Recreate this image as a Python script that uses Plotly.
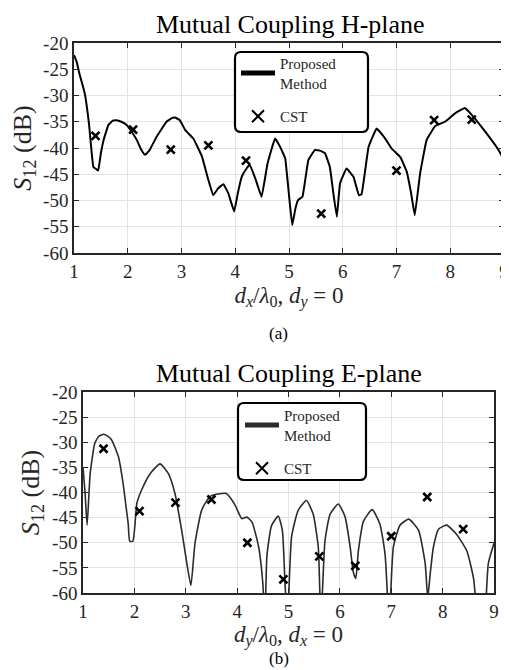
import plotly.graph_objects as go

# ---------------- H-plane (a) ----------------
h_x = [1.0, 1.05, 1.1, 1.2, 1.28, 1.36, 1.41, 1.45, 1.5, 1.55, 1.64, 1.72, 1.79, 1.88, 1.98,
       2.08, 2.17, 2.25, 2.32, 2.4, 2.54, 2.72, 2.82, 2.88, 2.97, 3.07, 3.22, 3.38, 3.5,
       3.59, 3.68, 3.78, 3.87, 3.98, 4.05, 4.12, 4.21, 4.27, 4.38, 4.49, 4.6, 4.74, 4.82,
       4.89, 4.93, 5.0, 5.06, 5.12, 5.17, 5.25, 5.36, 5.48, 5.58, 5.67, 5.76, 5.83, 5.89,
       5.95, 6.07, 6.2, 6.3, 6.35, 6.48, 6.63, 6.79, 6.91, 7.07, 7.19, 7.27, 7.34, 7.44,
       7.56, 7.72, 7.9, 8.09, 8.27, 8.4, 8.65, 8.9, 9.0]
h_y = [-22.3, -23.6, -25.8, -29.6, -35.5, -43.6, -44.0, -44.3, -41.0, -38.5, -35.6, -34.8,
       -34.7, -35.0, -35.6, -37.0, -38.5, -40.3, -41.3, -40.5, -37.8, -35.0, -34.3, -34.2,
       -34.7, -36.6, -38.2, -41.6, -46.1, -49.0, -47.7, -46.9, -48.6, -52.1, -48.5, -45.5,
       -43.9, -43.2, -46.0, -49.3, -43.0, -38.2, -39.5, -41.0, -42.0, -49.0, -54.7, -51.5,
       -49.9, -49.3, -42.3, -40.4, -40.5, -41.0, -43.6, -49.0, -53.1, -46.7, -43.9, -45.5,
       -49.0, -48.8, -39.8, -36.3, -38.2, -40.1, -41.7, -44.5, -48.5, -52.8, -44.8, -38.5,
       -35.8, -35.0, -33.4, -32.4, -33.7, -36.9, -40.4, -42.2]
h_cst_x = [1.4, 2.1, 2.8, 3.5, 4.2, 5.6, 7.0, 7.7, 8.4]
h_cst_y = [-37.7, -36.5, -40.3, -39.5, -42.4, -52.5, -44.3, -34.7, -34.6]

# ---------------- E-plane (b) ----------------
e_x = [1.0, 1.04, 1.08, 1.14, 1.23, 1.31, 1.4, 1.48, 1.56, 1.69, 1.78, 1.84, 1.88, 1.91,
       1.97, 2.05, 2.14, 2.31, 2.5, 2.66, 2.79, 2.92, 3.02, 3.1, 3.18, 3.31, 3.47, 3.63,
       3.79, 3.96, 4.09, 4.19, 4.29, 4.42, 4.5, 4.54, 4.58, 4.67, 4.8, 4.88, 4.93, 4.98,
       5.06, 5.19, 5.35, 5.48, 5.58, 5.63, 5.71, 5.81, 5.97, 6.1, 6.2, 6.26, 6.31, 6.36,
       6.46, 6.63, 6.78, 6.88, 6.96, 7.04, 7.17, 7.34, 7.53, 7.66, 7.71, 7.76, 7.82, 7.92,
       8.08, 8.27, 8.47, 8.6, 8.72, 8.81, 8.89, 9.0]
e_y = [-35.0, -40.0, -46.5, -36.2, -30.2, -28.8, -28.4, -28.8, -29.6, -32.9, -38.2, -43.0,
       -46.2, -49.7, -49.7, -42.1, -39.5, -36.2, -34.3, -36.2, -40.2, -47.5, -54.0, -58.5,
       -50.1, -43.5, -40.8, -40.3, -40.2, -42.5, -45.2, -44.9, -45.9, -50.9, -58.0, -66.0,
       -52.6, -46.6, -44.7, -47.5, -57.6, -66.0, -48.8, -43.5, -41.6, -44.3, -50.9, -66.0,
       -49.6, -44.3, -42.3, -44.8, -50.8, -55.8, -57.1, -51.6, -45.7, -43.4, -46.3, -52.3,
       -66.0, -50.9, -46.5, -45.3, -47.5, -54.1, -61.0, -56.0, -50.9, -47.3, -46.5, -48.3,
       -51.6, -57.0, -68.0, -66.0, -54.1, -50.1]
e_cst_x = [1.4, 2.1, 2.8, 3.5, 4.2, 4.9, 5.6, 6.3, 7.0, 7.7, 8.4]
e_cst_y = [-31.3, -43.7, -42.0, -41.4, -50.0, -57.3, -52.7, -54.6, -48.7, -40.9, -47.3]

x_ticks = [1, 2, 3, 4, 5, 6, 7, 8, 9]
y_ticks = [-60, -55, -50, -45, -40, -35, -30, -25, -20]

# page body has an 8px margin, so the figure is made 8px smaller and coordinates shifted
OFF = 8
W, H = 509 - OFF, 670 - OFF


def px(x):
    return (x - OFF) / W


def py(y):
    return 1 - (y - OFF) / H


def rounded_box(x0, y0, x1, y1, r=6):
    # x0,y0 top-left; x1,y1 bottom-right in window pixels -> paper path
    rx, ry = r / W, r / H
    a, b, c, d = px(x0), py(y0), px(x1), py(y1)
    return (f"M{a + rx},{b} L{c - rx},{b} Q{c},{b} {c},{b - ry} "
            f"L{c},{d + ry} Q{c},{d} {c - rx},{d} L{a + rx},{d} "
            f"Q{a},{d} {a},{d + ry} L{a},{b - ry} Q{a},{b} {a + rx},{b} Z")


FONT = "Liberation Serif"
TXT = "#262626"
fig = go.Figure()

fig.add_trace(go.Scatter(x=h_x, y=h_y, mode="lines", name="Proposed<br>Method",
                         line=dict(color="black", width=2, shape="spline", smoothing=0.25),
                         xaxis="x", yaxis="y", legend="legend", legendgroup="a1"))
fig.add_trace(go.Scatter(x=h_cst_x, y=h_cst_y, mode="markers", name="CST",
                         marker=dict(symbol="x-thin", size=8, color="black",
                                     line=dict(width=2.6, color="black")),
                         xaxis="x", yaxis="y", legend="legend", legendgroup="a2"))
fig.add_trace(go.Scatter(x=e_x, y=e_y, mode="lines", name="Proposed<br>Method",
                         line=dict(color="#2b2b2b", width=1.6, shape="spline", smoothing=0.5),
                         xaxis="x2", yaxis="y2", legend="legend2", legendgroup="b1"))
fig.add_trace(go.Scatter(x=e_cst_x, y=e_cst_y, mode="markers", name="CST",
                         marker=dict(symbol="x-thin", size=8, color="black",
                                     line=dict(width=2.6, color="black")),
                         xaxis="x2", yaxis="y2", legend="legend2", legendgroup="b2"))

axis_common = dict(showgrid=True, gridcolor="#e3e3e3", gridwidth=1, zeroline=False,
                   showline=True, linecolor=TXT, linewidth=1.5, mirror="allticks",
                   ticks="inside", ticklen=5, tickcolor=TXT, automargin=False,
                   tickfont=dict(family=FONT, size=19, color=TXT))

xa = dict(axis_common, range=[1, 9], tickvals=x_ticks, ticktext=[str(v) for v in x_ticks])
ya = dict(axis_common, range=[-60, -20], tickvals=y_ticks, ticktext=[str(v) for v in y_ticks])

legend_common = dict(bgcolor="rgba(0,0,0,0)", borderwidth=0,
                     font=dict(family=FONT, size=15, color=TXT),
                     xanchor="left", yanchor="top", tracegroupgap=11,
                     itemsizing="constant", itemwidth=34)

fig.update_layout(
    width=W, height=H,
    paper_bgcolor="white", plot_bgcolor="white",
    margin=dict(l=0, r=0, t=0, b=0, autoexpand=False),
    showlegend=True,
    xaxis=dict(xa, domain=[px(74), px(504)], anchor="y",
               title=dict(text="<i>d</i><sub><i>x</i></sub>/<i>λ</i><sub>0</sub>, <i>d</i><sub><i>y</i></sub> = 0",
                          font=dict(family=FONT, size=23, color=TXT), standoff=6)),
    yaxis=dict(ya, domain=[py(253), py(43)], anchor="x",
               title=dict(text="<i>S</i><sub>12</sub> (dB)",
                          font=dict(family=FONT, size=26, color=TXT), standoff=6)),
    xaxis2=dict(xa, domain=[px(83), px(494)], anchor="y2",
                title=dict(text="<i>d</i><sub><i>y</i></sub>/<i>λ</i><sub>0</sub>, <i>d</i><sub><i>x</i></sub> = 0",
                           font=dict(family=FONT, size=23, color=TXT), standoff=3)),
    yaxis2=dict(ya, domain=[py(593), py(392)], anchor="x2",
                title=dict(text="<i>S</i><sub>12</sub> (dB)",
                           font=dict(family=FONT, size=26, color=TXT), standoff=5)),
    legend=dict(legend_common, x=px(236), y=py(47)),
    legend2=dict(legend_common, x=px(240), y=py(399)),
    shapes=[
        dict(type="path", xref="paper", yref="paper", layer="above",
             path=rounded_box(235, 52, 368, 132), fillcolor="white",
             line=dict(color="black", width=2.2)),
        dict(type="path", xref="paper", yref="paper", layer="above",
             path=rounded_box(238, 403, 366, 480), fillcolor="white",
             line=dict(color="black", width=2.2)),
    ],
    annotations=[
        dict(text="Mutual Coupling H-plane", x=px(290), y=py(24), xref="paper", yref="paper",
             showarrow=False, font=dict(family=FONT, size=26, color="black"),
             xanchor="center", yanchor="middle"),
        dict(text="Mutual Coupling E-plane", x=px(289), y=py(373), xref="paper", yref="paper",
             showarrow=False, font=dict(family=FONT, size=26, color="black"),
             xanchor="center", yanchor="middle"),
        dict(text="(a)", x=px(278), y=py(333), xref="paper", yref="paper",
             showarrow=False, font=dict(family=FONT, size=17, color="black"),
             xanchor="center", yanchor="middle"),
        dict(text="(b)", x=px(279), y=py(658), xref="paper", yref="paper",
             showarrow=False, font=dict(family=FONT, size=17, color="black"),
             xanchor="center", yanchor="middle", borderpad=0),
    ],
)

fig.write_html("out.html")
